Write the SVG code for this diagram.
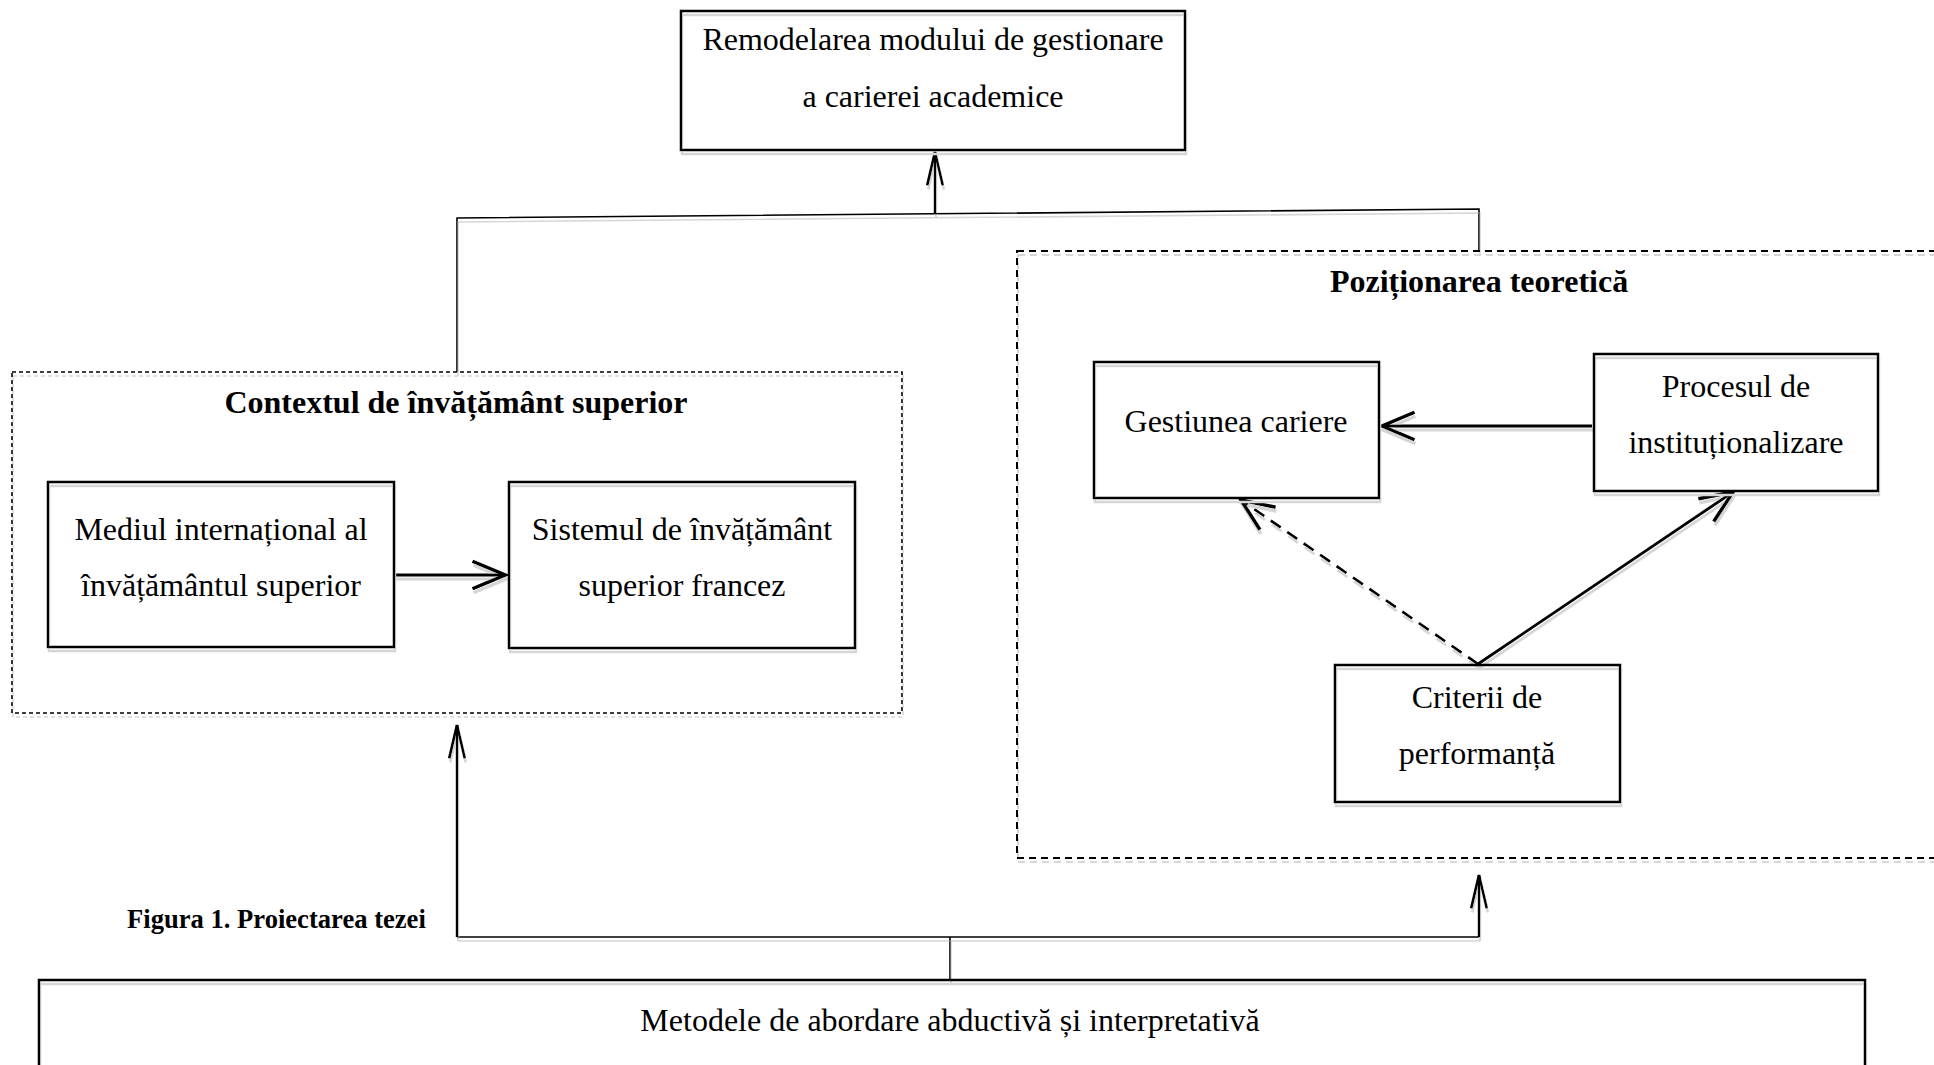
<svg xmlns="http://www.w3.org/2000/svg" width="1934" height="1065" viewBox="0 0 1934 1065">
<style>
  .box { fill: none; stroke: #000; stroke-width: 2.5; }
  .dotted { fill: none; stroke: #000; stroke-width: 1.6; stroke-dasharray: 4 3; }
  .dashed { fill: none; stroke: #000; stroke-width: 2; stroke-dasharray: 7 5; }
  .t { font-family: "Liberation Serif", "Times New Roman", serif; font-size: 32px; fill: #000; text-anchor: middle; }
  .title { font-family: "Liberation Serif", "Times New Roman", serif; font-size: 32px; font-weight: bold; fill: #000; text-anchor: middle; }
  .cap { font-family: "Liberation Serif", "Times New Roman", serif; font-size: 26.6px; font-weight: bold; fill: #000; }
  .bus { fill: none; stroke: #000; stroke-width: 1.6; }
  .arr { fill: none; stroke: #000; stroke-width: 2.8; }
  .arrv { fill: none; stroke: #000; stroke-width: 2.4; }
  .arrd { fill: none; stroke: #000; stroke-width: 2.6; stroke-dasharray: 12 8; }
</style>
<defs>
  <filter id="sh" filterUnits="userSpaceOnUse" x="0" y="0" width="1934" height="1065">
    <feOffset in="SourceAlpha" dx="1" dy="4" result="o"/>
    <feFlood flood-color="#d6d6d6"/>
    <feComposite in2="o" operator="in" result="s"/>
    <feMerge><feMergeNode in="s"/><feMergeNode in="SourceGraphic"/></feMerge>
  </filter>
  <marker id="open" markerUnits="userSpaceOnUse" markerWidth="40" markerHeight="40" viewBox="-30 -15 32 30" refX="0" refY="0" orient="auto">
    <path d="M-26,-11 L0,0 L-26,11" fill="none" stroke="#000" stroke-width="2.8"/>
  </marker>
  <marker id="narrow" markerUnits="userSpaceOnUse" markerWidth="40" markerHeight="40" viewBox="-34 -10 36 20" refX="0" refY="0" orient="auto">
    <path d="M-30,-7 L0,0 L-30,7" fill="none" stroke="#000" stroke-width="2.4"/>
  </marker>
</defs>
<rect width="1934" height="1065" fill="#fff"/>

<g id="connectors" filter="url(#sh)">
  <path class="bus" d="M457,372 L457,218 L1479,209 L1479,251"/>
  <line class="arrv" x1="935" y1="214" x2="935" y2="152" marker-end="url(#narrow)"/>
  <path class="bus" d="M950,979 L950,937"/>
  <path class="bus" d="M457,937 L1479,937"/>
  <line class="arrv" x1="457" y1="937" x2="457" y2="725" marker-end="url(#narrow)"/>
  <line class="arrv" x1="1479" y1="937" x2="1479" y2="875" marker-end="url(#narrow)"/>
  <line class="arr" x1="394" y1="575" x2="505" y2="575" marker-end="url(#open)"/>
  <line class="arr" x1="1592" y1="426" x2="1382" y2="426" marker-end="url(#open)"/>
  <line class="arrd" x1="1478" y1="664" x2="1241" y2="500" marker-end="url(#open)"/>
  <line class="arr" x1="1478" y1="664" x2="1733" y2="492" marker-end="url(#open)"/>
</g>

<g id="remodelarea">
  <rect class="box" x="681" y="11" width="504" height="139" filter="url(#sh)"/>
  <text class="t" x="933" y="50">Remodelarea modului de gestionare</text>
  <text class="t" x="933" y="107">a carierei academice</text>
</g>

<g id="contextul">
  <rect class="dotted" x="12" y="372" width="890" height="341" filter="url(#sh)"/>
  <text class="title" x="456" y="413">Contextul de învățământ superior</text>
</g>

<g id="mediul">
  <rect class="box" x="48" y="482" width="346" height="165" filter="url(#sh)"/>
  <text class="t" x="221" y="540">Mediul internațional al</text>
  <text class="t" x="221" y="596">învățământul superior</text>
</g>

<g id="sistemul">
  <rect class="box" x="509" y="482" width="346" height="166" filter="url(#sh)"/>
  <text class="t" x="682" y="540">Sistemul de învățământ</text>
  <text class="t" x="682" y="596">superior francez</text>
</g>

<g id="pozitionarea">
  <rect class="dashed" x="1017" y="251" width="930" height="607" filter="url(#sh)"/>
  <text class="title" x="1479" y="292">Poziționarea teoretică</text>
</g>

<g id="gestiunea">
  <rect class="box" x="1094" y="362" width="285" height="136" filter="url(#sh)"/>
  <text class="t" x="1236" y="432">Gestiunea cariere</text>
</g>

<g id="procesul">
  <rect class="box" x="1594" y="354" width="284" height="137" filter="url(#sh)"/>
  <text class="t" x="1736" y="397">Procesul de</text>
  <text class="t" x="1736" y="453">instituționalizare</text>
</g>

<g id="criterii">
  <rect class="box" x="1335" y="665" width="285" height="137" filter="url(#sh)"/>
  <text class="t" x="1477" y="708">Criterii de</text>
  <text class="t" x="1477" y="764">performanță</text>
</g>

<g id="caption">
  <text class="cap" x="127" y="928">Figura 1. Proiectarea tezei</text>
</g>

<g id="metodele">
  <rect class="box" x="39" y="980" width="1826" height="120" filter="url(#sh)"/>
  <text class="t" x="950" y="1031">Metodele de abordare abductivă și interpretativă</text>
</g>
</svg>
